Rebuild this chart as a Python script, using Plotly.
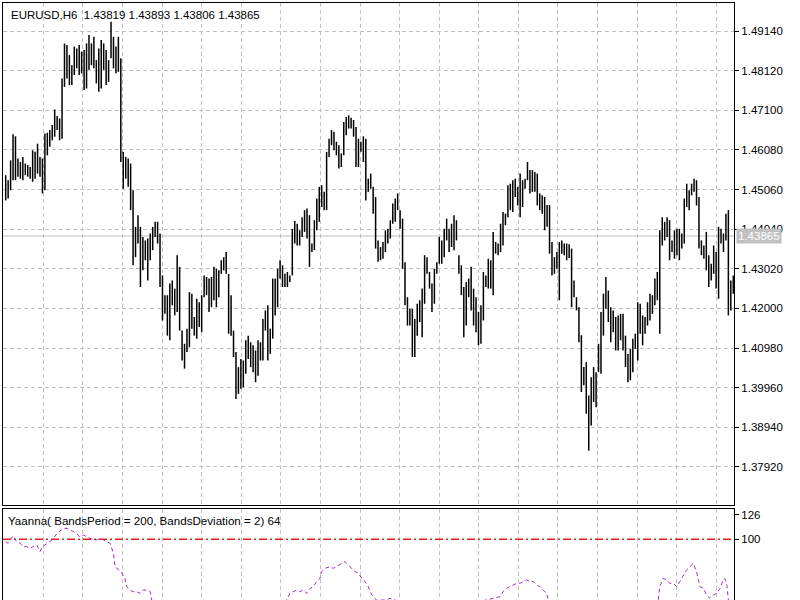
import plotly.graph_objects as go

# ---------------- data ----------------
symbol_header = "EURUSD,H6  1.43819 1.43893 1.43806 1.43865"
indicator_title = "Yaanna( BandsPeriod = 200, BandsDeviation = 2) 64"
last_close = 1.43865
level = 100

price_ticks = [1.37920, 1.38940, 1.39960, 1.40980, 1.42000, 1.43020,
               1.44040, 1.45060, 1.46080, 1.47100, 1.48120, 1.49140]
ind_ticks = [100, 126]

highs = [
    1.4543, 1.4530, 1.4581, 1.4648, 1.4643, 1.4586, 1.4577, 1.4590, 1.4573, 1.4569,
    1.4564, 1.4607, 1.4603, 1.4624, 1.4590, 1.4586, 1.4650, 1.4652, 1.4659, 1.4672,
    1.4712, 1.4695, 1.4689, 1.4792, 1.4882, 1.4878, 1.4852, 1.4826, 1.4874, 1.4869,
    1.4878, 1.4861, 1.4865, 1.4882, 1.4904, 1.4882, 1.4899, 1.4839, 1.4869, 1.4891,
    1.4882, 1.4865, 1.4839, 1.4938, 1.4899, 1.4874, 1.4899, 1.4844, 1.4603, 1.4590,
    1.4586, 1.4573, 1.4504, 1.4410, 1.4440, 1.4410, 1.4384, 1.4375, 1.4380, 1.4393,
    1.4410, 1.4423,
    1.4423, 1.4393, 1.4285, 1.4234, 1.4234, 1.4264, 1.4272, 1.4251, 1.4337, 1.4307,
    1.4143, 1.4109, 1.4148, 1.4242, 1.4238, 1.4178, 1.4225, 1.4216, 1.4234, 1.4285,
    1.4281, 1.4277, 1.4281, 1.4307, 1.4302, 1.4298, 1.4324, 1.4332, 1.4345, 1.4289,
    1.4234, 1.4143, 1.4088, 1.4049, 1.4070, 1.4066, 1.4118, 1.4130, 1.4113, 1.4105,
    1.4092, 1.4118, 1.4113, 1.4173, 1.4195, 1.4208, 1.4148, 1.4277, 1.4277, 1.4302,
    1.4324, 1.4311, 1.4289, 1.4294, 1.4285, 1.4405, 1.4425, 1.4418, 1.4401,
    1.4435, 1.4453, 1.4457, 1.4440, 1.4367, 1.4427, 1.4483, 1.4513, 1.4517, 1.4500,
    1.4603, 1.4637, 1.4659, 1.4655, 1.4629, 1.4620, 1.4599, 1.4680, 1.4693, 1.4697,
    1.4691, 1.4685, 1.4667, 1.4637, 1.4629, 1.4643, 1.4637, 1.4534, 1.4547, 1.4513,
    1.4487, 1.4375, 1.4358, 1.4371, 1.4401, 1.4405, 1.4427, 1.4470, 1.4483, 1.4496,
    1.4453, 1.4431, 1.4319, 1.4229, 1.4199, 1.4199, 1.4173, 1.4212, 1.4221, 1.4251,
    1.4337, 1.4332, 1.4294, 1.4264, 1.4302, 1.4319, 1.4384, 1.4375,
    1.4405, 1.4431, 1.4405, 1.4418, 1.4440, 1.4427, 1.4337, 1.4311, 1.4255, 1.4268,
    1.4277, 1.4307, 1.4251, 1.4229, 1.4191, 1.4208, 1.4294, 1.4285, 1.4328, 1.4324,
    1.4397, 1.4371, 1.4367, 1.4418, 1.4448, 1.4444, 1.4517, 1.4521, 1.4530, 1.4534,
    1.4513, 1.4547, 1.4530, 1.4534, 1.4577, 1.4556, 1.4556, 1.4551, 1.4547, 1.4496,
    1.4491, 1.4487, 1.4466, 1.4466, 1.4371, 1.4332, 1.4345, 1.4371, 1.4375, 1.4367,
    1.4367, 1.4365, 1.4354, 1.4272, 1.4229, 1.4203, 1.4131, 1.4049, 1.4062, 1.3976,
    1.4023, 1.4049, 1.4036, 1.4109, 1.4191, 1.4238, 1.4281, 1.4246, 1.4203, 1.4195,
    1.4178, 1.4182, 1.4186, 1.4186, 1.4130, 1.4083, 1.4096, 1.4122, 1.4135, 1.4216,
    1.4212, 1.4182, 1.4178, 1.4216, 1.4238, 1.4234, 1.4277, 1.4294, 1.4401, 1.4435,
    1.4423, 1.4435, 1.4427, 1.4375, 1.4401, 1.4405, 1.4405, 1.4393, 1.4483, 1.4521,
    1.4504, 1.4521, 1.4534, 1.4530, 1.4487, 1.4375, 1.4362, 1.4397, 1.4337, 1.4315,
    1.4362, 1.4345, 1.4410, 1.4405, 1.4393, 1.4444, 1.4453, 1.4272, 1.4285,
]

lows = [
    1.4478, 1.4483, 1.4504, 1.4530, 1.4530, 1.4539, 1.4534, 1.4530, 1.4543, 1.4539,
    1.4534, 1.4526, 1.4534, 1.4547, 1.4539, 1.4496, 1.4504, 1.4594, 1.4616, 1.4633,
    1.4642, 1.4659, 1.4633, 1.4637, 1.4770, 1.4792, 1.4775, 1.4775, 1.4801, 1.4818,
    1.4801, 1.4805, 1.4762, 1.4766, 1.4814, 1.4826, 1.4818, 1.4779, 1.4758, 1.4766,
    1.4814, 1.4775, 1.4783, 1.4844, 1.4818, 1.4805, 1.4809, 1.4577, 1.4508, 1.4534,
    1.4513, 1.4453, 1.4311, 1.4332, 1.4367, 1.4255, 1.4298, 1.4324, 1.4272, 1.4324,
    1.4350, 1.4384,
    1.4367, 1.4255, 1.4169, 1.4186, 1.4130, 1.4118, 1.4208, 1.4182, 1.4191, 1.4143,
    1.4066, 1.4045, 1.4088, 1.4100, 1.4148, 1.4130, 1.4122, 1.4152, 1.4139, 1.4229,
    1.4234, 1.4191, 1.4203, 1.4221, 1.4203, 1.4229, 1.4289, 1.4298, 1.4289, 1.4135,
    1.4130, 1.4075, 1.3967, 1.3980, 1.3993, 1.3997, 1.4032, 1.4070, 1.4049, 1.4036,
    1.4010, 1.4027, 1.4066, 1.4066, 1.4143, 1.4066, 1.4083, 1.4122, 1.4182, 1.4203,
    1.4277, 1.4255, 1.4255, 1.4255, 1.4268, 1.4285, 1.4367, 1.4362, 1.4362,
    1.4384, 1.4397, 1.4380, 1.4307, 1.4345, 1.4350, 1.4401, 1.4423, 1.4461, 1.4453,
    1.4453, 1.4590, 1.4620, 1.4607, 1.4594, 1.4560, 1.4564, 1.4594, 1.4646, 1.4663,
    1.4663, 1.4642, 1.4564, 1.4564, 1.4603, 1.4577, 1.4478, 1.4500, 1.4508, 1.4444,
    1.4354, 1.4320, 1.4324, 1.4328, 1.4345, 1.4367, 1.4380, 1.4418, 1.4423, 1.4453,
    1.4405, 1.4302, 1.4208, 1.4156, 1.4156, 1.4075, 1.4075, 1.4130, 1.4165, 1.4126,
    1.4212, 1.4289, 1.4251, 1.4191, 1.4212, 1.4289, 1.4315, 1.4315,
    1.4332, 1.4375, 1.4345, 1.4358, 1.4350, 1.4375, 1.4289, 1.4234, 1.4126, 1.4156,
    1.4229, 1.4195, 1.4156, 1.4139, 1.4105, 1.4109, 1.4169, 1.4255, 1.4251, 1.4251,
    1.4234, 1.4341, 1.4337, 1.4345, 1.4362, 1.4414, 1.4435, 1.4453, 1.4448, 1.4487,
    1.4465, 1.4435, 1.4461, 1.4508, 1.4530, 1.4496, 1.4500, 1.4500, 1.4465, 1.4453,
    1.4444, 1.4401, 1.4410, 1.4341, 1.4285, 1.4289, 1.4302, 1.4221, 1.4341, 1.4337,
    1.4324, 1.4330, 1.4203, 1.4229, 1.4195, 1.4113, 1.3985, 1.4002, 1.3929, 1.3834,
    1.3899, 1.3959, 1.3946, 1.4036, 1.4032, 1.4130, 1.4199, 1.4165, 1.4113, 1.4139,
    1.4092, 1.4092, 1.4118, 1.4092, 1.4049, 1.4010, 1.4015, 1.4036, 1.4096, 1.4066,
    1.4135, 1.4105, 1.4135, 1.4156, 1.4169, 1.4186, 1.4208, 1.4221, 1.4135, 1.4362,
    1.4375, 1.4384, 1.4324, 1.4345, 1.4328, 1.4337, 1.4324, 1.4354, 1.4367, 1.4461,
    1.4453, 1.4491, 1.4500, 1.4465, 1.4354, 1.4337, 1.4328, 1.4298, 1.4255, 1.4272,
    1.4289, 1.4251, 1.4225, 1.4367, 1.4345, 1.4375, 1.4182, 1.4195, 1.4238,
]

# indicator: bar index and value where it was read
ind_idx = [0, 1, 3, 4.5, 6, 7, 8.6, 10, 11, 12.7, 14, 15, 17, 18, 19, 21, 22, 23.5,
           25, 26, 27.6, 29, 30, 31.7, 33, 34.4, 35.8, 37, 38.5, 40, 41, 42.6, 44,
           44.6, 46, 47, 48.7, 49.4, 50.7, 52, 53.5, 54.8, 56, 57.5, 59, 59.6,
           70, 85, 100, 114.7, 116, 117.4, 118.8, 120, 121.5, 122.9, 124.2, 125.6,
           126.9, 128.3, 129, 130.3, 132.4, 133.7, 135, 136.4, 138.5, 139.8, 141.2,
           142.6, 144, 145.3, 146.7, 148, 148.7, 150, 151.4, 154.8, 156.9, 159,
           170, 185, 201.8, 203, 204.5, 205.8, 207.2, 208.6, 210, 211.3, 212.7, 214,
           215.4, 216.7, 218.1, 219.4, 220.8, 221.5, 235, 250, 266.4, 267, 267.7,
           268.4, 269.8, 271.1, 272.5, 273.9, 275.2, 276.6, 277.9, 279.3, 280.7, 282,
           283.4, 284.8, 286.1, 287.5, 288.9, 290.2, 291.6, 292.9, 293.6, 294.3, 295,
           297]
ind_val = [97.5, 95.7, 103.5, 97.5, 95.7, 92.1, 92.1, 90.3, 92.1, 93.9, 86.8, 92.1,
           95.7, 97.5, 99.3, 106.4, 108.2, 111.7, 111.7, 110.0, 108.2, 106.4, 102.8,
           104.6, 102.8, 101.0, 99.3, 99.3, 101.0, 99.3, 97.5, 95.7, 85.0, 70.7, 67.2,
           65.4, 58.2, 49.3, 45.7, 43.9, 43.9, 42.2, 45.7, 45.7, 43.9, 35.0,
           25, 15, 20, 35.0, 42.2, 43.9, 45.7, 43.9, 45.7, 42.2, 47.5, 49.3, 54.7,
           58.2, 65.4, 68.9, 70.7, 68.9, 70.7, 72.5, 76.1, 72.5, 68.9, 65.4, 63.6,
           58.2, 54.7, 49.3, 43.9, 38.6, 35.0, 35.0, 36.8, 35.0,
           25, 28, 38.6, 43.9, 47.5, 49.3, 51.1, 52.9, 52.9, 54.7, 56.5, 54.7, 54.7,
           51.1, 49.3, 45.7, 42.2, 35.0, 20, 10, 35.0, 49.3, 54.7, 58.2, 56.5, 52.9,
           52.9, 49.3, 54.7, 61.8, 67.2, 70.7, 74.3, 65.4, 49.3, 47.5, 40.4, 36.8,
           40.4, 42.2, 47.5, 56.5, 58.2, 52.9, 35.0, 30]

# ---------------- figure ----------------
FONT = "Liberation Sans, Arial, sans-serif"
GRID = "#C0C0C0"

seg_x, seg_y = [], []
for i, (h, l) in enumerate(zip(highs, lows)):
    seg_x += [i, i, None]
    seg_y += [l, h, None]

n = len(highs)
xr = [-1.1, n - 0.7]

fig = go.Figure()
fig.add_trace(go.Scatter(x=seg_x, y=seg_y, mode="lines",
                         line=dict(color="#000000", width=1.5),
                         xaxis="x", yaxis="y", hoverinfo="skip"))
# indicator level line (red dash-dot) drawn as a trace across the panel
fig.add_trace(go.Scatter(x=xr, y=[level, level], mode="lines",
                         line=dict(color="#E8201C", width=1.5,
                                   dash="8px,3px,2px,3px"),
                         xaxis="x2", yaxis="y2", hoverinfo="skip"))
fig.add_trace(go.Scatter(x=ind_idx, y=ind_val, mode="lines",
                         line=dict(color="#9932CC", width=1, dash="4px,3px"),
                         xaxis="x2", yaxis="y2", hoverinfo="skip"))

xgrid = dict(range=xr, showgrid=True, gridcolor=GRID, griddash="4px,3px",
             gridwidth=1, tick0=15.35, dtick=16.16, showticklabels=False,
             ticks="", zeroline=False, fixedrange=True)

fig.update_layout(
    width=800, height=600,
    margin=dict(l=3, r=66, t=0, b=0),
    paper_bgcolor="white", plot_bgcolor="white",
    showlegend=False,
    font=dict(family=FONT, size=11.5, color="#000000"),
    xaxis=dict(**xgrid, domain=[0, 1], anchor="y",
               showline=True, linecolor="#000000", linewidth=1, mirror=True),
    yaxis=dict(domain=[1 - 505 / 600, 1 - 3 / 600], range=[1.36941, 1.49861],
               side="right", tickvals=price_ticks,
               ticktext=[f"{v:.5f}" for v in price_ticks],
               ticks="outside", ticklen=4, tickcolor="#000000",
               showgrid=True, gridcolor=GRID, griddash="4px,3px",
               zeroline=False, showline=True, linecolor="#000000",
               linewidth=1, mirror=True, anchor="x"),
    xaxis2=dict(**xgrid, domain=[0, 1], anchor="y2",
                showline=True, linecolor="#000000", linewidth=1, side="top",
                mirror=False),
    yaxis2=dict(domain=[0, 1 - 509 / 600], range=[35.05, 132.4],
                side="right", tickvals=ind_ticks,
                ticks="outside", ticklen=4, tickcolor="#000000",
                showgrid=False, zeroline=False, showline=True,
                linecolor="#000000", linewidth=1, mirror=True, anchor="x2"),
)

# current price line
fig.add_shape(type="line", xref="x domain", x0=0, x1=1, yref="y",
              y0=last_close, y1=last_close, layer="below",
              line=dict(color="#C0C0C0", width=1))

# texts
fig.add_annotation(text=symbol_header, xref="paper", yref="paper",
                   x=(8.5 - 3) / 731, y=1 - 14.5 / 600, xanchor="left",
                   yanchor="middle", showarrow=False,
                   font=dict(family=FONT, size=11.5, color="#000000"))
fig.add_annotation(text=indicator_title, xref="paper", yref="paper",
                   x=(6 - 3) / 731, y=1 - 520 / 600, xanchor="left",
                   yanchor="middle", showarrow=False,
                   font=dict(family=FONT, size=11.6, color="#000000"))
fig.add_annotation(text=f"{last_close:.5f}", xref="paper", yref="y",
                   x=1, xshift=2, y=last_close, xanchor="left",
                   yanchor="middle", showarrow=False, bgcolor="#C0C0C0",
                   borderpad=1,
                   font=dict(family=FONT, size=11.5, color="#FFFFFF"))

fig.write_html("out.html")
